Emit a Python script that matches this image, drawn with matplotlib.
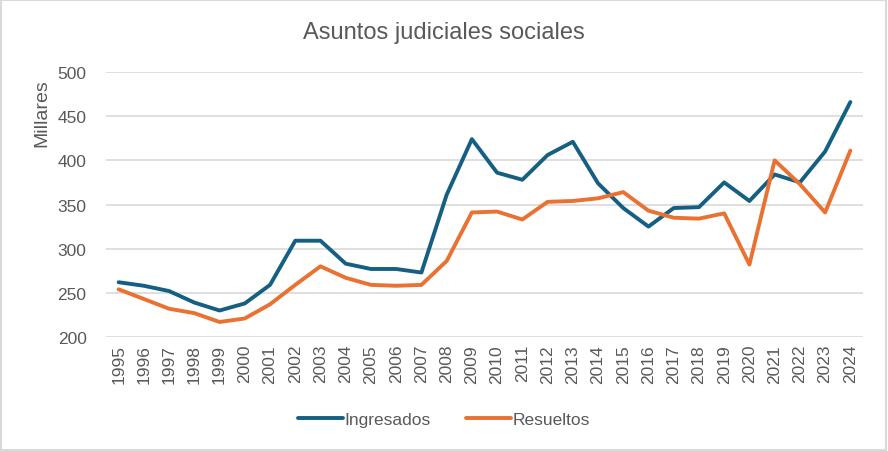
import numpy as np
import matplotlib.pyplot as plt
from matplotlib.patches import Rectangle

plt.rcParams['font.family'] = ['Liberation Sans', 'DejaVu Sans']

years = [str(y) for y in range(1995, 2025)]
ingresados = [262, 258, 252, 239, 230, 238, 259, 309, 309, 283, 277, 277, 273, 361, 424,
              386, 378, 406, 421, 374, 346, 325, 346, 347, 375, 354, 384, 375, 410, 466]
resueltos = [254, 243, 232, 227, 217, 221, 237, 259, 280, 267, 259, 258, 259, 286, 341,
             342, 333, 353, 354, 357, 364, 343, 335, 334, 340, 282, 400, 373, 341, 411]

blue = '#156082'
orange = '#E97132'
gray_txt = '#595959'

fig = plt.figure(figsize=(8.88, 4.52), dpi=100)
ax = fig.add_axes([0.1194, 0.2522, 0.8524, 0.5863])

x = np.arange(len(years))
ax.plot(x, ingresados, color=blue, lw=2.8, label='Ingresados', solid_capstyle='round', solid_joinstyle='round')
ax.plot(x, resueltos, color=orange, lw=2.8, label='Resueltos', solid_capstyle='round', solid_joinstyle='round')

ax.set_xlim(-0.5, len(years) - 0.5)
ax.set_ylim(200, 500)
ax.set_yticks(range(200, 501, 50))
ax.set_xticks(x)
ax.set_xticklabels(years, rotation=90)
ax.grid(axis='y', color='#D9D9D9', lw=1.2)
ax.set_axisbelow(True)
for s in ax.spines.values():
    s.set_visible(False)
ax.tick_params(length=0, colors=gray_txt, labelsize=12.5)
ax.tick_params(axis='y', pad=14)
ax.tick_params(axis='x', pad=5)

ax.set_ylabel('Millares', color=gray_txt, fontsize=14)
ax.yaxis.set_label_coords(-0.074, 0.85)

fig.text(0.5, 0.927, 'Asuntos judiciales sociales', ha='center', va='center', fontsize=17, color=gray_txt)

fig.legend(loc='center', bbox_to_anchor=(0.5, 0.07), ncol=2, frameon=False, fontsize=12.5,
           handlelength=2.6, handletextpad=0.1, columnspacing=2.0, labelcolor=gray_txt)

fig.add_artist(Rectangle((0.001, 0.002), 0.997, 0.995, transform=fig.transFigure,
                         fill=False, edgecolor='#D9D9D9', lw=1.5))

fig.savefig('out.png', dpi=100)
